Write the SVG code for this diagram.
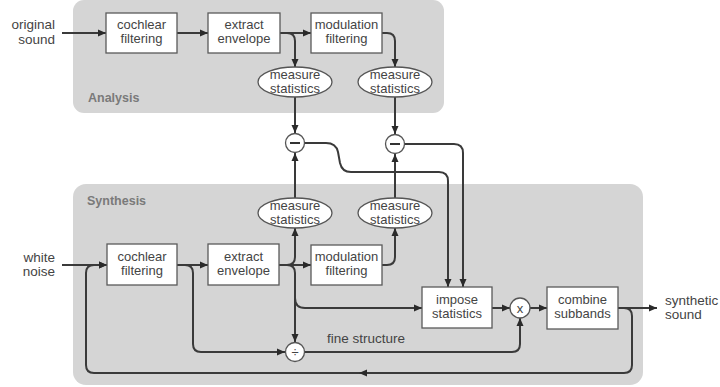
<svg xmlns="http://www.w3.org/2000/svg" width="720" height="387" viewBox="0 0 720 387">
<style>
.panel{fill:#d5d5d5;stroke:none}
.plabel{font-family:"Liberation Sans",Arial,sans-serif;font-size:12.5px;font-weight:bold;fill:#7a7a7a}
.box{fill:#fff;stroke:#5a5a5a;stroke-width:1.3}
.t{font-family:"Liberation Sans",Arial,sans-serif;font-size:13px;fill:#444;text-anchor:middle}
.tl{font-family:"Liberation Sans",Arial,sans-serif;font-size:13.5px;fill:#444}
.c{fill:none;stroke:#3a3a3a;stroke-width:2}
.a{marker-end:url(#ah)}
.op{fill:#fff;stroke:#555;stroke-width:1.3}
</style>
<defs>
<marker id="ah" markerUnits="userSpaceOnUse" markerWidth="9" markerHeight="8" refX="8" refY="4" orient="auto">
<path d="M0,0.5 L8,4 L0,7.5 z" fill="#2a2a2a"/>
</marker>
</defs>
<rect class="panel" x="73" y="0" width="371" height="113" rx="11"/>
<text class="plabel" x="88" y="102">Analysis</text>
<rect class="panel" x="73" y="184" width="570" height="201" rx="13"/>
<text class="plabel" x="87" y="205">Synthesis</text>

<g id="connectors">
<path class="c a" d="M62,33 H106"/>
<path class="c a" d="M177,33 H208"/>
<path class="c a" d="M280,33 H311"/>
<path class="c a" d="M280,33 H287 Q295,33 295,41 V67"/>
<path class="c a" d="M382,33 H387 Q395,33 395,41 V67"/>
<path class="c a" d="M295,97 V133"/>
<path class="c a" d="M395,97 V134"/>
<path class="c a" d="M295,198 V153"/>
<path class="c a" d="M395,198 V154"/>
<path class="c a" d="M304.5,143 H326 Q336,143 338,152 L340,163 Q342,172 351,172 H439 Q448,172 448,181 V287"/>
<path class="c a" d="M404.5,144 H454 Q463,144 463,153 V287"/>
<path class="c a" d="M62,265 H107"/>
<path class="c a" d="M177,265 H208"/>
<path class="c a" d="M279,265 H311"/>
<path class="c a" d="M279,265 H287 Q295,265 295,257 V228"/>
<path class="c a" d="M287,265 Q295,265 295,273 V342"/>
<path class="c a" d="M295,298 Q295,308 305,308 H422"/>
<path class="c a" d="M382,265 H387 Q395,265 395,257 V228"/>
<path class="c a" d="M177,265 H185 Q193,265 193,273 V344 Q193,352 201,352 H285"/>
<path class="c a" d="M304.5,352 H512 Q520,352 520,344 V318"/>
<path class="c a" d="M492,308 H510"/>
<path class="c a" d="M530,308 H547"/>
<path class="c a" d="M618,308 H657"/>
<path class="c a" d="M618,308 H624 Q632,308 632,316 V365 Q632,373 624,373 H94 Q86,373 86,365 V273 Q86,265 94,265 H107"/>
<path d="M359,373 L367,369.5 L367,376.5 z" fill="#2a2a2a"/>
</g>

<g id="original-sound"><text class="tl" x="55" y="29" text-anchor="end">original</text><text class="tl" x="55" y="44" text-anchor="end">sound</text></g>
<g id="white-noise"><text class="tl" x="55" y="262" text-anchor="end">white</text><text class="tl" x="55" y="276" text-anchor="end">noise</text></g>
<g id="synthetic-sound"><text class="tl" x="665" y="305">synthetic</text><text class="tl" x="665" y="319">sound</text></g>
<g id="fine-structure"><text class="tl" x="327" y="343">fine structure</text></g>

<g id="a-cochlear"><rect class="box" x="106" y="13" width="71" height="40"/><text class="t" x="141.5" y="29">cochlear</text><text class="t" x="141.5" y="43">filtering</text></g>
<g id="a-extract"><rect class="box" x="208" y="13" width="72" height="40"/><text class="t" x="244" y="29">extract</text><text class="t" x="244" y="43">envelope</text></g>
<g id="a-modulation"><rect class="box" x="311" y="13" width="71" height="40"/><text class="t" x="346.5" y="29">modulation</text><text class="t" x="346.5" y="43">filtering</text></g>
<g id="a-measure1"><ellipse class="op" cx="295" cy="82" rx="37" ry="15"/><text class="t" x="295" y="79">measure</text><text class="t" x="295" y="93">statistics</text></g>
<g id="a-measure2"><ellipse class="op" cx="395" cy="82" rx="37" ry="15"/><text class="t" x="395" y="79">measure</text><text class="t" x="395" y="93">statistics</text></g>
<g id="minus1"><circle class="op" cx="295" cy="143" r="9.5"/><path d="M290,143 H300" stroke="#333" stroke-width="2"/></g>
<g id="minus2"><circle class="op" cx="395" cy="144" r="9.5"/><path d="M390,144 H400" stroke="#333" stroke-width="2"/></g>
<g id="s-measure1"><ellipse class="op" cx="295" cy="213" rx="37" ry="15"/><text class="t" x="295" y="210">measure</text><text class="t" x="295" y="224">statistics</text></g>
<g id="s-measure2"><ellipse class="op" cx="395" cy="213" rx="37" ry="15"/><text class="t" x="395" y="210">measure</text><text class="t" x="395" y="224">statistics</text></g>
<g id="s-cochlear"><rect class="box" x="107" y="244" width="70" height="41"/><text class="t" x="142" y="261">cochlear</text><text class="t" x="142" y="275">filtering</text></g>
<g id="s-extract"><rect class="box" x="208" y="244" width="71" height="41"/><text class="t" x="243.5" y="261">extract</text><text class="t" x="243.5" y="275">envelope</text></g>
<g id="s-modulation"><rect class="box" x="311" y="245" width="71" height="40"/><text class="t" x="346.5" y="261">modulation</text><text class="t" x="346.5" y="275">filtering</text></g>
<g id="impose"><rect class="box" x="422" y="287" width="70" height="41"/><text class="t" x="457" y="304">impose</text><text class="t" x="457" y="318">statistics</text></g>
<g id="multiply"><circle class="op" cx="520" cy="308" r="10"/><text class="t" x="520" y="312.5" font-size="14">x</text></g>
<g id="divide"><circle class="op" cx="295" cy="352" r="9.5"/><text class="t" x="295" y="357" font-size="15">÷</text></g>
<g id="combine"><rect class="box" x="547" y="287" width="71" height="42"/><text class="t" x="582.5" y="304">combine</text><text class="t" x="582.5" y="318">subbands</text></g>
</svg>
